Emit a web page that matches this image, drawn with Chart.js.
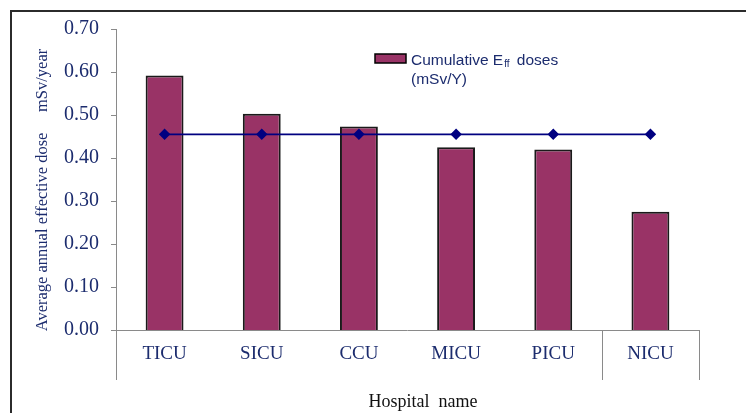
<!DOCTYPE html>
<html>
<head>
<meta charset="utf-8">
<script src="https://cdn.jsdelivr.net/npm/chart.js@4/dist/chart.umd.min.js"></script>
<style>
  html, body { margin: 0; padding: 0; background: #fff; }
  #wrap { width: 746px; height: 413px; }
</style>
</head>
<body>
<div id="wrap"><canvas id="chart" width="746" height="413"></canvas></div>
<script>
const hospitals = ["TICU", "SICU", "CCU", "MICU", "PICU", "NICU"]
const cumulativeDoses = [0.592, 0.503, 0.473, 0.425, 0.420, 0.275]
const averageDose = [0.455, 0.455, 0.455, 0.455, 0.455, 0.455]
const yTicks = [0, 0.1, 0.2, 0.3, 0.4, 0.5, 0.6, 0.7]

const navy = "#1c2c6e"
const serif = "'Liberation Serif', 'Times New Roman', serif"
const sans = "'Liberation Sans', Arial, sans-serif"

const framePlugin = {
  id: "frame",
  beforeDatasetsDraw(chart) {
    const { ctx, chartArea, scales } = chart
    const x = scales.x
    const y = scales.y
    const zero = y.getPixelForValue(0)
    const axisBottom = zero + 50

    ctx.save()
    ctx.strokeStyle = "#8a8a8a"
    ctx.lineWidth = 1

    // y axis, running down through the label band
    ctx.beginPath()
    ctx.moveTo(chartArea.left + 0.5, chartArea.top)
    ctx.lineTo(chartArea.left + 0.5, axisBottom)
    ctx.stroke()

    // y tick marks
    yTicks.forEach((v) => {
      const py = Math.round(y.getPixelForValue(v)) + 0.5
      ctx.beginPath()
      ctx.moveTo(chartArea.left - 5, py)
      ctx.lineTo(chartArea.left, py)
      ctx.stroke()
    })

    // x axis
    ctx.beginPath()
    ctx.moveTo(chartArea.left, Math.round(zero) + 0.5)
    ctx.lineTo(chartArea.right, Math.round(zero) + 0.5)
    ctx.stroke()

    // divider before the last category and the right end
    const divider = (x.getPixelForValue(4) + x.getPixelForValue(5)) / 2
    ;[divider, chartArea.right].forEach((px) => {
      ctx.beginPath()
      ctx.moveTo(Math.round(px) + 0.5, zero)
      ctx.lineTo(Math.round(px) + 0.5, axisBottom)
      ctx.stroke()
    })
    ctx.restore()
  },
  afterDraw(chart) {
    const { ctx } = chart
    ctx.save()

    // outer frame (only top and left fall inside the picture)
    ctx.strokeStyle = "#2b2b2b"
    ctx.lineWidth = 2
    ctx.beginPath()
    ctx.moveTo(11, 413)
    ctx.lineTo(11, 11)
    ctx.lineTo(746, 11)
    ctx.stroke()

    // y title
    ctx.fillStyle = navy
    ctx.font = "16.5px " + serif
    ctx.textAlign = "center"
    ctx.textBaseline = "middle"
    ctx.translate(43, 190)
    ctx.rotate(-Math.PI / 2)
    ctx.fillText("Average annual effective dose     mSv/year", 0, 0)
    ctx.setTransform(1, 0, 0, 1, 0, 0)

    // x title
    ctx.fillStyle = "#111"
    ctx.font = "18px " + serif
    ctx.fillText("Hospital  name", 423, 402)

    // legend
    ctx.fillStyle = "#993366"
    ctx.fillRect(375, 54, 31, 9)
    ctx.strokeStyle = "#000"
    ctx.lineWidth = 1.5
    ctx.strokeRect(375, 54, 31, 9)

    ctx.fillStyle = navy
    ctx.textAlign = "left"
    ctx.textBaseline = "alphabetic"
    ctx.font = "15.5px " + sans
    let tx = 411
    ctx.fillText("Cumulative E", tx, 65)
    tx += ctx.measureText("Cumulative E").width
    ctx.font = "10px " + sans
    ctx.fillText("ff", tx + 1, 67)
    tx += ctx.measureText("ff").width + 1
    ctx.font = "15.5px " + sans
    ctx.fillText(" doses", tx + 3, 65)
    ctx.fillText("(mSv/Y)", 411, 84)

    ctx.restore()
  }
}

new Chart(document.getElementById("chart"), {
  type: "bar",
  data: {
    labels: hospitals,
    datasets: [
      {
        type: "line",
        label: "Average",
        data: averageDose,
        borderColor: "#000080",
        backgroundColor: "#000080",
        borderWidth: 1.8,
        pointStyle: "rectRot",
        pointRadius: 4.5,
        pointBackgroundColor: "#000080",
        pointBorderColor: "#000080",
        order: 0
      },
      {
        label: "Cumulative Eff doses (mSv/Y)",
        data: cumulativeDoses,
        backgroundColor: "#993366",
        borderColor: "#1a1a1a",
        borderWidth: 2,
        categoryPercentage: 1,
        barPercentage: 0.39,
        order: 1
      }
    ]
  },
  options: {
    responsive: false,
    animation: false,
    layout: { padding: { top: 25, right: 47, left: 0, bottom: 0 } },
    plugins: {
      legend: { display: false },
      tooltip: { enabled: false }
    },
    scales: {
      x: {
        grid: { display: false, drawTicks: false },
        border: { display: false },
        ticks: { color: navy, font: { family: serif, size: 19 }, padding: 13 },
        afterFit: (scale) => { scale.height = 83 }
      },
      y: {
        min: 0,
        max: 0.7,
        grid: { display: false, drawTicks: false },
        border: { display: false },
        afterBuildTicks: (scale) => { scale.ticks = yTicks.map((v) => ({ value: v })) },
        ticks: {
          color: navy,
          font: { family: serif, size: 20 },
          padding: 17,
          callback: (value) => Number(value).toFixed(2)
        },
        afterFit: (scale) => { scale.width = 116 }
      }
    }
  },
  plugins: [framePlugin]
})
</script>
</body>
</html>
